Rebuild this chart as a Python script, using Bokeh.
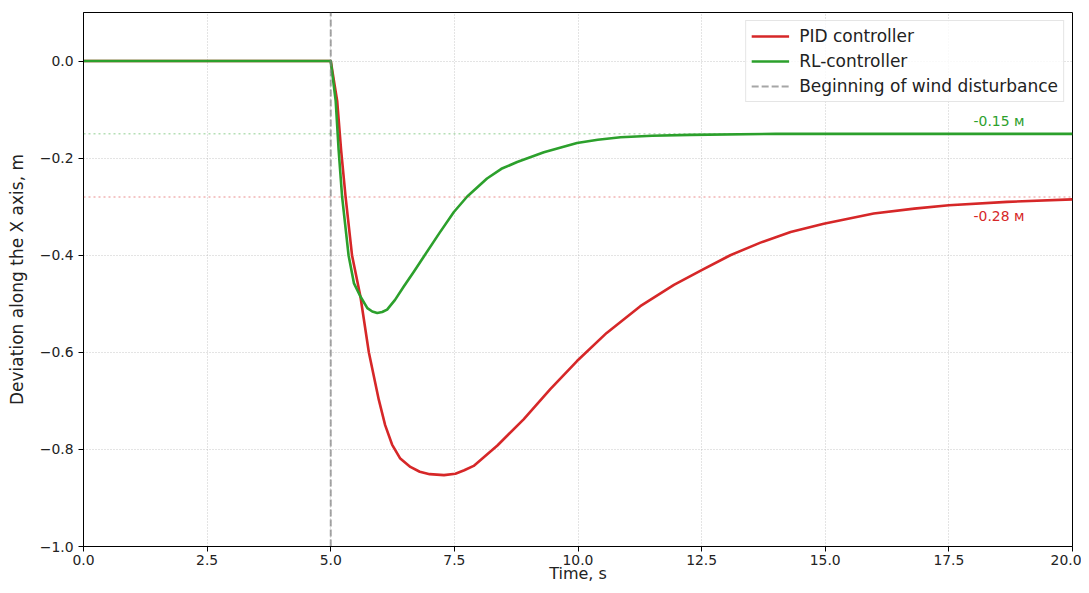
from bokeh.plotting import figure
from bokeh.models import (Span, FixedTicker, Legend, LegendItem, Label, Range1d,
                          NumeralTickFormatter, CustomJSTickFormatter)
from bokeh.embed import file_html
from bokeh.resources import INLINE

# ---------------- data ----------------
pid_t = [0.0, 5.0, 5.13, 5.21, 5.30, 5.43, 5.60, 5.77, 5.97, 6.10, 6.24, 6.40, 6.61,
         6.80, 7.00, 7.29, 7.52, 7.70, 7.89, 8.37, 8.90, 9.44, 9.98, 10.58, 11.26,
         11.94, 12.51, 13.08, 13.69, 14.30, 14.97, 15.98, 16.80, 17.50, 18.68, 20.0]
pid_x = [0.0, 0.0, -0.082, -0.184, -0.280, -0.400, -0.485, -0.600, -0.697, -0.750,
         -0.790, -0.818, -0.836, -0.846, -0.851, -0.853, -0.850, -0.843, -0.834,
         -0.792, -0.738, -0.676, -0.618, -0.560, -0.505, -0.461, -0.430, -0.400,
         -0.374, -0.352, -0.335, -0.314, -0.304, -0.297, -0.290, -0.285]

rl_t = [0.0, 5.0, 5.10, 5.16, 5.23, 5.36, 5.47, 5.60, 5.74, 5.84, 5.94, 6.04, 6.14,
        6.30, 6.48, 6.68, 6.88, 7.20, 7.49, 7.76, 8.16, 8.45, 8.77, 9.31, 9.98,
        10.40, 10.86, 11.50, 12.27, 14.0, 20.0]
rl_x = [0.0, 0.0, -0.082, -0.184, -0.280, -0.400, -0.458, -0.485, -0.509, -0.516,
        -0.519, -0.517, -0.512, -0.492, -0.464, -0.434, -0.403, -0.354, -0.311,
        -0.279, -0.242, -0.222, -0.208, -0.188, -0.169, -0.162, -0.157, -0.154,
        -0.152, -0.150, -0.150]

disturbance_t = 5.0
steady_levels = [-0.15, -0.28]          # RL, PID
steady_texts = ["-0.15 м", "-0.28 м"]

x_ticks = [0.0, 2.5, 5.0, 7.5, 10.0, 12.5, 15.0, 17.5, 20.0]
y_ticks = [-1.0, -0.8, -0.6, -0.4, -0.2, 0.0]

series_names = ["PID controller", "RL-controller", "Beginning of wind disturbance"]
x_title = "Time, s"
y_title = "Deviation along the X axis, m"

# ---------------- styling ----------------
RED = "#d62728"
GREEN = "#2ca02c"
FONT = "DejaVu Sans"
TXT = "#222222"
X_MIN, X_MAX = 0.0, 20.0
Y_MIN, Y_MAX = -1.0, 0.1

p = figure(width=1081, height=585, output_backend="svg", toolbar_location=None,
           x_range=Range1d(X_MIN, X_MAX), y_range=Range1d(Y_MIN, Y_MAX),
           min_border_left=83, min_border_right=9, min_border_top=12,
           min_border_bottom=37)

p.background_fill_color = "white"
p.border_fill_color = "white"
p.outline_line_color = "black"
p.outline_line_width = 1
p.outline_line_alpha = 1.0

for g in (p.xgrid, p.ygrid):
    g.grid_line_color = "#b0b0b0"
    g.grid_line_alpha = 0.7
    g.grid_line_dash = "1 2"
    g.grid_line_width = 1

p.xgrid.ticker = FixedTicker(ticks=x_ticks)
p.ygrid.ticker = FixedTicker(ticks=y_ticks)
p.xaxis.ticker = FixedTicker(ticks=x_ticks)
p.yaxis.ticker = FixedTicker(ticks=y_ticks)
p.xaxis.formatter = NumeralTickFormatter(format="0.0")
p.yaxis.formatter = CustomJSTickFormatter(
    code="return tick.toFixed(1).replace('-', '\u2212');")

for ax in (p.xaxis[0], p.yaxis[0]):
    ax.axis_line_color = "black"
    ax.axis_line_width = 1
    ax.major_tick_line_color = "black"
    ax.major_tick_out = 5
    ax.major_tick_in = 0
    ax.minor_tick_out = 0
    ax.minor_tick_in = 0
    ax.major_label_text_font = FONT
    ax.major_label_text_font_size = "13.9px"
    ax.major_label_text_color = TXT
    ax.axis_label_text_font = FONT
    ax.axis_label_text_font_style = "normal"
    ax.axis_label_text_color = TXT

p.xaxis.axis_label = x_title
p.yaxis.axis_label = y_title
p.yaxis.axis_label_text_font_size = "17px"
p.xaxis.axis_label_text_font_size = "16px"
p.yaxis.major_label_standoff = 5
p.yaxis.axis_label_standoff = 10
p.xaxis.major_label_standoff = 3
p.xaxis.axis_label_standoff = -4

# steady-state reference lines
for lvl, col in zip(steady_levels, [GREEN, RED]):
    p.add_layout(Span(location=lvl, dimension="width", line_color=col,
                      line_alpha=0.35, line_dash="2 3", line_width=1.5))

r_pid = p.line(pid_t, pid_x, line_color=RED, line_width=2.6, line_join="round")
r_rl = p.line(rl_t, rl_x, line_color=GREEN, line_width=2.6, line_join="round")
r_dist = p.line([disturbance_t, disturbance_t], [Y_MIN, Y_MAX], line_color="#808080",
                line_alpha=0.7, line_dash="7 3", line_width=2)

# annotations of steady-state values
offsets = [0.027, -0.040]
for lvl, txt, col, off in zip(steady_levels, steady_texts, [GREEN, RED], offsets):
    p.add_layout(Label(x=18.0, y=lvl + off, text=txt, text_color=col,
                       text_font=FONT, text_font_size="13.9px",
                       text_baseline="alphabetic", text_align="left"))

legend = Legend(items=[LegendItem(label=series_names[0], renderers=[r_pid]),
                       LegendItem(label=series_names[1], renderers=[r_rl]),
                       LegendItem(label=series_names[2], renderers=[r_dist])],
                location="top_right", margin=8, padding=5, spacing=5,
                glyph_width=38, glyph_height=20, label_standoff=10,
                label_text_font=FONT, label_text_font_size="17px",
                label_text_color=TXT,
                border_line_color="#cccccc", border_line_width=1,
                background_fill_color="white", background_fill_alpha=0.8)
p.add_layout(legend)

open("out.html", "w").write(file_html(p, INLINE))
